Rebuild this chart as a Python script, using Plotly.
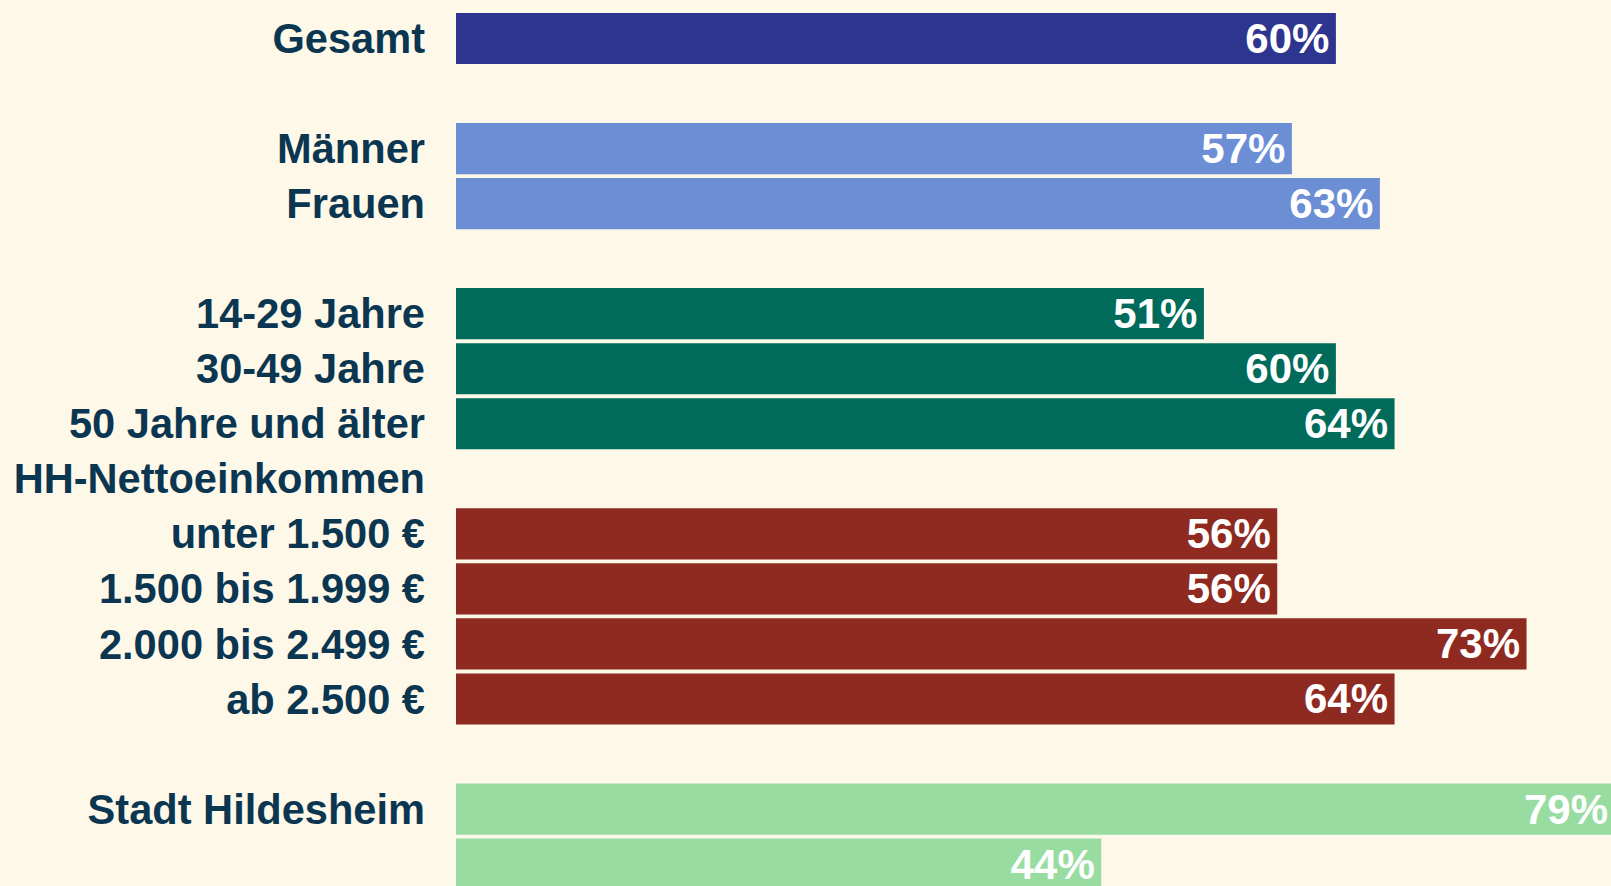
import plotly.graph_objects as go

categories = ["Gesamt", "", "Männer", "Frauen", "", "14-29 Jahre", "30-49 Jahre",
              "50 Jahre und älter", "HH-Nettoeinkommen", "unter 1.500 €", "1.500 bis 1.999 €",
              "2.000 bis 2.499 €", "ab 2.500 €", "", "Stadt Hildesheim", "Umland"]
values = [60, None, 57, 63, None, 51, 60, 64, None, 56, 56, 73, 64, None, 79, 44]
groups = ["gesamt", None, "geschlecht", "geschlecht", None, "alter", "alter", "alter", None,
          "einkommen", "einkommen", "einkommen", "einkommen", None, "wohnort", "wohnort"]
group_colors = {"gesamt": "#2e358f", "geschlecht": "#6c8ed5", "alter": "#006b5a",
                "einkommen": "#8e2a20", "wohnort": "#99dca1"}

BG = "#fef8e9"
LABEL = "#0b3651"
FONT = "Liberation Sans, Arial, sans-serif"

fig = go.Figure()
for g, col in group_colors.items():
    ys = [i for i, gg in enumerate(groups) if gg == g]
    xs = [values[i] for i in ys]
    fig.add_trace(go.Bar(
        x=xs, y=ys, orientation="h", marker=dict(color=col, line=dict(width=0)),
        text=[f"{v}%\u200a" for v in xs], textposition="inside", insidetextanchor="end",
        constraintext="none",
        textfont=dict(family=FONT, size=42, color="white", weight="bold"),
        showlegend=False, hoverinfo="skip"))

fig.update_layout(
    width=1616, height=886,
    paper_bgcolor=BG, plot_bgcolor=BG,
    margin=dict(l=456, r=0, t=0, b=0),
    bargap=0.07, barmode="overlay",
    xaxis=dict(range=[0, 79.1], visible=False, fixedrange=True),
    yaxis=dict(range=[15.398, -0.6995], tickmode="array", tickvals=list(range(len(categories))),
               ticktext=categories, showgrid=False, zeroline=False, showline=False, ticks="",
               ticklabelstandoff=30, fixedrange=True,
               tickfont=dict(family=FONT, size=41.6, color=LABEL, weight="bold")),
)

fig.write_html("out.html", config={"displayModeBar": False},
               post_script="document.body.style.margin='0';document.body.style.overflow='hidden';"
                           "document.body.style.background='" + BG + "';")
